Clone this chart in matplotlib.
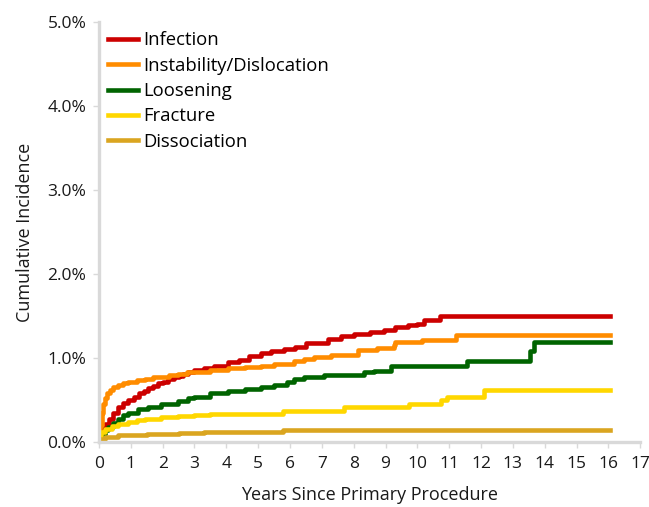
import matplotlib
matplotlib.use("Agg")
import matplotlib.pyplot as plt
from matplotlib.ticker import FuncFormatter

plt.rcParams['font.family'] = ['Open Sans', 'DejaVu Sans']

# years since primary procedure (step times) and cumulative incidence (%)
inf_t = [0, 0.1, 0.2, 0.3, 0.45, 0.6, 0.75, 0.92, 1.1, 1.25, 1.4, 1.55, 1.7, 1.86, 2.0,
         2.17, 2.35, 2.5, 2.65, 2.8, 3.0, 3.3, 3.6, 4.05, 4.4, 4.7, 5.1, 5.4, 5.8, 6.15,
         6.5, 7.2, 7.6, 8.0, 8.5, 8.95, 9.3, 9.7, 10.0, 10.2, 10.7, 16.05]
inf_v = [0.05, 0.15, 0.22, 0.28, 0.35, 0.42, 0.46, 0.50, 0.54, 0.58, 0.61, 0.64, 0.67, 0.70, 0.72,
         0.75, 0.77, 0.79, 0.81, 0.83, 0.86, 0.88, 0.91, 0.95, 0.98, 1.02, 1.06, 1.08, 1.11, 1.13,
         1.18, 1.23, 1.26, 1.29, 1.31, 1.34, 1.37, 1.39, 1.41, 1.45, 1.50, 1.50]

ins_t = [0, 0.03, 0.08, 0.13, 0.19, 0.26, 0.34, 0.45, 0.6, 0.75, 0.92, 1.2, 1.44, 1.7, 1.96,
         2.2, 2.48, 2.75, 3.0, 3.5, 4.05, 4.6, 5.09, 5.5, 6.14, 6.45, 6.76, 7.3, 8.12, 8.74,
         9.27, 9.3, 10.15, 11.2, 16.05]
ins_v = [0.05, 0.2, 0.35, 0.45, 0.52, 0.58, 0.62, 0.65, 0.68, 0.70, 0.72, 0.74, 0.75, 0.77, 0.78,
         0.80, 0.81, 0.83, 0.84, 0.86, 0.88, 0.89, 0.90, 0.93, 0.96, 0.99, 1.01, 1.04, 1.10, 1.12,
         1.15, 1.19, 1.22, 1.28, 1.28]

loo_t = [0, 0.1, 0.2, 0.29, 0.45, 0.6, 0.75, 0.92, 1.23, 1.54, 1.96, 2.48, 2.8, 3.0, 3.5,
         4.05, 4.6, 5.09, 5.5, 5.9, 6.14, 6.45, 7.08, 8.33, 8.64, 9.16, 11.56, 13.55, 13.67, 16.05]
loo_v = [0.05, 0.1, 0.14, 0.18, 0.23, 0.28, 0.32, 0.35, 0.39, 0.42, 0.45, 0.49, 0.52, 0.54, 0.58,
         0.61, 0.63, 0.65, 0.68, 0.72, 0.75, 0.77, 0.80, 0.83, 0.85, 0.91, 0.96, 1.08, 1.19, 1.19]

fra_t = [0, 0.05, 0.19, 0.4, 0.6, 0.92, 1.2, 1.44, 1.96, 2.48, 3.0, 3.5, 4.05, 5.77, 7.7,
         9.74, 10.73, 10.94, 12.08, 16.05]
fra_v = [0.05, 0.12, 0.16, 0.19, 0.21, 0.24, 0.26, 0.27, 0.30, 0.31, 0.32, 0.33, 0.34, 0.37, 0.42,
         0.45, 0.50, 0.54, 0.62, 0.62]

dis_t = [0, 0.05, 0.2, 0.6, 1.0, 1.5, 2.5, 3.3, 5.77, 6.5, 16.05]
dis_v = [0.0, 0.04, 0.06, 0.08, 0.09, 0.10, 0.11, 0.12, 0.14, 0.15, 0.15]

fig = plt.figure(figsize=(6.49, 5.07), dpi=100)
ax = fig.add_axes([0.1525, 0.128, 0.834, 0.8286])

lw = 3.3
ax.plot(inf_t, inf_v, color='#cc0000', lw=lw, drawstyle='steps-post', label='Infection')
ax.plot(ins_t, ins_v, color='#ff8c00', lw=lw, drawstyle='steps-post', label='Instability/Dislocation')
ax.plot(loo_t, loo_v, color='#006400', lw=lw, drawstyle='steps-post', label='Loosening')
ax.plot(fra_t, fra_v, color='#ffd700', lw=lw, drawstyle='steps-post', label='Fracture')
ax.plot(dis_t, dis_v, color='#daa520', lw=lw, drawstyle='steps-post', label='Dissociation')

ax.set_xlim(0, 17)
ax.set_ylim(0, 5)
ax.set_xticks(range(0, 18))
ax.set_yticks([0, 1, 2, 3, 4, 5])
ax.yaxis.set_major_formatter(FuncFormatter(lambda v, p: '%.1f%%' % v))

for s in ['top', 'right']:
    ax.spines[s].set_visible(False)
for s in ['left', 'bottom']:
    ax.spines[s].set_color('#d9d9d9')
    ax.spines[s].set_linewidth(2.4)
ax.tick_params(axis='both', colors='#d9d9d9', labelcolor='#1a1a1a', labelsize=12.5, length=4, width=1)
ax.tick_params(axis='x', pad=6)
ax.tick_params(axis='y', pad=5)

ax.set_xlabel('Years Since Primary Procedure', fontsize=13, color='#1a1a1a', labelpad=10)
ax.set_ylabel('Cumulative Incidence', fontsize=13, color='#1a1a1a', labelpad=10)

ax.legend(loc='upper left', frameon=False, fontsize=13.3, handlelength=1.6, handletextpad=0.3,
          labelspacing=0.4, borderaxespad=0.1, bbox_to_anchor=(0.0, 1.0))

fig.savefig('out.png', dpi=100)
